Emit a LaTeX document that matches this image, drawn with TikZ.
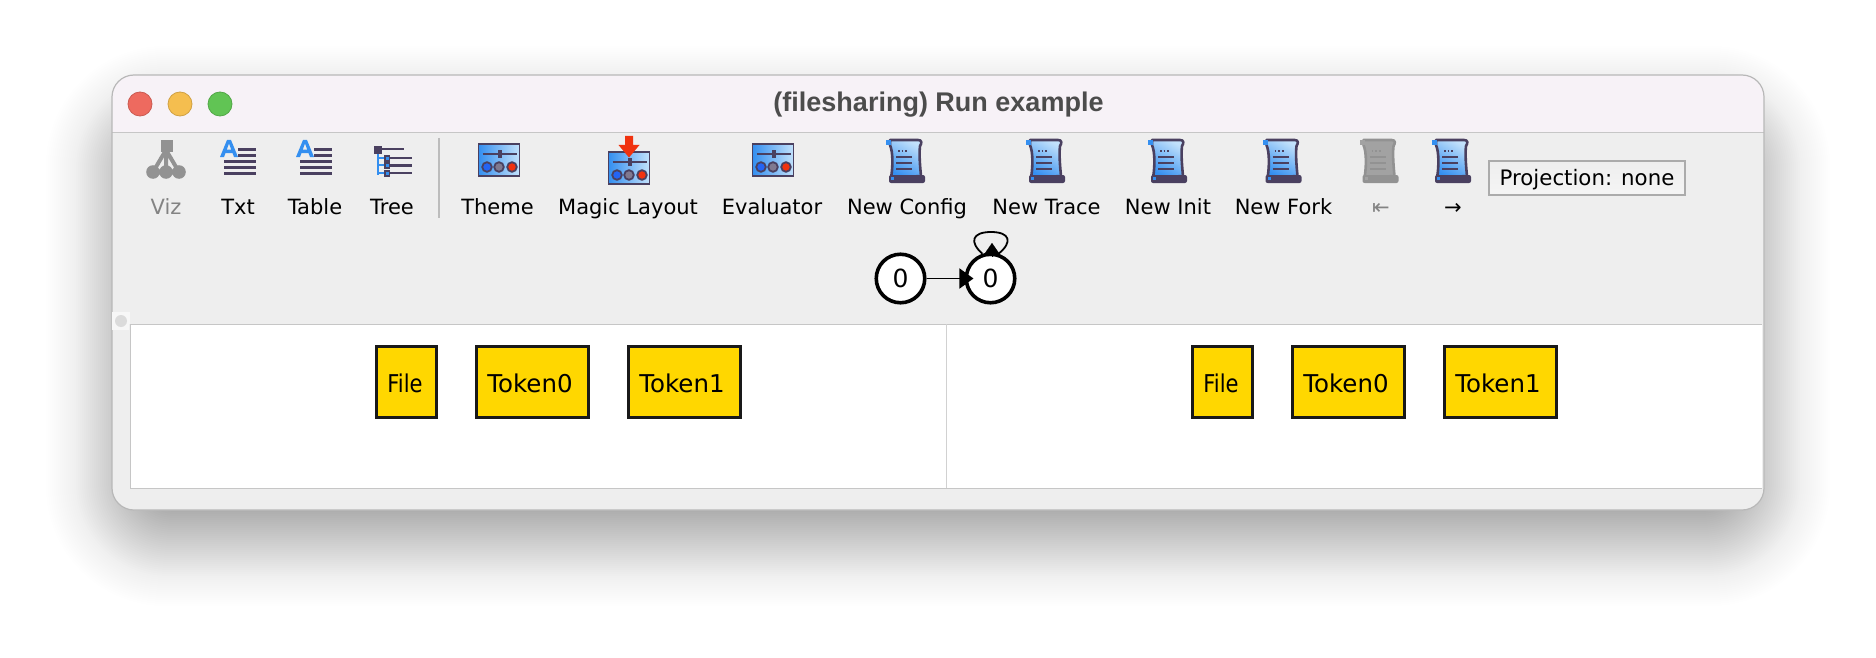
\documentclass[tikz,border=0pt]{standalone}
\usepackage{fontspec}
\setmainfont{DejaVu Sans}
\newfontfamily\titlefont{Liberation Sans}
\usetikzlibrary{arrows.meta}
\definecolor{barbg}{HTML}{F7F2F7}
\definecolor{toolbg}{HTML}{EEEEEE}
\definecolor{winedge}{HTML}{B8B8B8}
\definecolor{paneledge}{HTML}{C6C6C6}
\definecolor{inkdark}{HTML}{4A4060}
\definecolor{iconblue}{HTML}{348FF0}
\definecolor{iconlight}{HTML}{C2E1FB}
\definecolor{icongrey}{HTML}{929292}
\definecolor{greylight}{HTML}{ABABAB}
\definecolor{tokengold}{HTML}{FFD700}
\definecolor{iconred}{HTML}{F0320F}
\definecolor{lightred}{HTML}{EE6A5F}
\definecolor{lightyellow}{HTML}{F5BE4F}
\definecolor{lightgreen}{HTML}{61C454}
\definecolor{titleink}{HTML}{4C4C4C}
\tikzset{
  x=1pt,y=-1pt,
  toollabel/.style={inner sep=0pt,font=\fontsize{21}{24}\selectfont,text=black,anchor=base},
  atom/.style={draw=black!90,line width=2.6pt,fill=tokengold,minimum height=71.5pt,inner sep=0pt,text height=20pt,text depth=0pt,font=\fontsize{24.5}{26}\selectfont,text=black},
  statecirc/.style={circle,draw=black,line width=3.6pt,fill=white,minimum size=48.5pt,inner sep=0pt,font=\fontsize{25}{28}\selectfont},
  light/.style={circle,minimum size=24pt,inner sep=0pt,line width=.8pt},
  pics/themeicon/.style={code={
    \fill[left color=iconblue,right color=iconlight] (0,0) rectangle (41,32);
    \draw[inkdark,line width=1.8pt] (0,0) rectangle (41,32);
    \draw[inkdark,line width=1.6pt] (4,10) -- (38,10);
    \fill[inkdark] (19,6) rectangle (23,14);
    \filldraw[fill=iconblue!70!blue,draw=inkdark,line width=1.8pt] (8.5,23) circle (4.8);
    \filldraw[fill=inkdark!70!white,draw=inkdark,line width=1.8pt] (20.5,23) circle (4.8);
    \filldraw[fill=iconred,draw=inkdark,line width=1.8pt] (33.5,23) circle (4.8);
  }},
  pics/scrollicon/.style args={#1/#2/#3}{code={
    \filldraw[bottom color=#2,top color=#3,shading angle=-30,draw=#1,line width=2.6pt,line join=round]
      (5,2) -- (33,2) .. controls (37,2) and (37,5) .. (35,8) .. controls (34,16) and (35,28) .. (36,38) -- (6,40)
      .. controls (8,28) and (8,14) .. (5,7) -- cycle;
    \fill[#1,rounded corners=2pt] (4,37) rectangle (40,45);
    \fill[#2] (1,2) rectangle (6,7);
    \fill[#2] (6,39) rectangle (9,42);
    \draw[#1,line width=1.7pt,dotted] (13,13) -- (22,13);
    \foreach \yy in {19,25,31} \draw[#1,line width=1.7pt] (11,\yy) -- (27,\yy);
  }},
  pics/txticon/.style={code={
    \fill[iconblue,even odd rule] (0,17) -- (7,0) -- (11,0) -- (18,17) -- (14,17) -- (12.5,13) -- (5.5,13) -- (4,17) -- cycle (6.8,9.5) -- (11.2,9.5) -- (9,3.5) -- cycle;
    \foreach \yy in {9.5,15.5} \draw[inkdark,line width=3pt] (18,\yy) -- (36,\yy);
    \foreach \yy in {21,27,33} \draw[inkdark,line width=3pt] (4,\yy) -- (36,\yy);
  }}
}
\begin{document}
\begin{tikzpicture}
\useasboundingbox (0,0) rectangle (1876,658);
\fill[white] (0,0) rectangle (1876,658);
% soft shadow: nested rounded rectangles with a gaussian weight
\foreach \d in {96,94,...,-96}{
  \pgfmathsetmacro{\rr}{max(4,60+\d*0.9)}
  \pgfmathsetmacro{\aa}{0.0095*exp(-\d*\d/(2*38*38))}
  \fill[black,fill opacity=\aa,rounded corners=\rr pt]
    ({112-\d},{112-\d}) rectangle ({1764+\d},{540+\d});
}
% window
\fill[toolbg,rounded corners=22pt] (112,75) rectangle (1764,510);
\begin{scope}
  \clip[rounded corners=22pt] (112,75) rectangle (1764,510);
  \fill[barbg] (112,75) rectangle (1764,132);
  \draw[paneledge,line width=1.2pt] (112,132.5) -- (1764,132.5);
\end{scope}
\draw[winedge,line width=1.2pt,rounded corners=22pt] (112,75) rectangle (1764,510);
% traffic lights and title
\node[light,fill=lightred,draw=lightred!85!black] (closebtn) at (140,104) {};
\node[light,fill=lightyellow,draw=lightyellow!85!black] (minbtn) at (180,104) {};
\node[light,fill=lightgreen,draw=lightgreen!85!black] (maxbtn) at (220,104) {};
\node[inner sep=0pt,text=titleink,font=\titlefont\bfseries\fontsize{27}{30}\selectfont] (title) at (938.5,104.5) {(filesharing) Run example};
% toolbar icons
\begin{scope}[icongrey]
  \fill (160.7,140) rectangle (173,152);
  \draw[line width=4pt] (166,150) -- (153,172) (166,150) -- (166,172) (166,150) -- (179,172);
  \fill (153,172) circle (6.8) (166,172) circle (6.8) (179,172) circle (6.8);
\end{scope}
\pic at (220,140) {txticon};
\pic at (296,140) {txticon};
% tree icon
\draw[iconblue,line width=2.5pt] (378,152) -- (378,175) (378,158) -- (384,158) (378,165) -- (384,165) (378,173) -- (384,173);
\fill[inkdark] (374,146) rectangle (382,154);
\draw[inkdark,line width=2.4pt] (382,149) -- (404,149);
\foreach \yy in {158,165.5,173} {
  \fill[inkdark] (384,\yy-3.5) rectangle (390,\yy+3.5);
  \fill[iconblue] (385.5,\yy-1.5) rectangle (388.5,\yy+1.5);
  \draw[inkdark,line width=2.4pt] (390,\yy) -- (412,\yy);
}
\draw[greylight!80!white,line width=1.6pt] (439,138) -- (439,218);
\pic at (478.5,144) {themeicon};
\pic at (608.5,152) {themeicon};
\fill[iconred] (625,136) -- (633,136) -- (633,145) -- (639.5,145) -- (629,157.5) -- (618.5,145) -- (625,145) -- cycle;
\pic at (752.5,144) {themeicon};
\pic at (885,138) {scrollicon={inkdark/iconblue/iconlight}};
\pic at (1025,138) {scrollicon={inkdark/iconblue/iconlight}};
\pic at (1147,138) {scrollicon={inkdark/iconblue/iconlight}};
\pic at (1261.5,138) {scrollicon={inkdark/iconblue/iconlight}};
\pic at (1358.5,138) {scrollicon={icongrey/icongrey!85!white/icongrey!85!white}};
\pic at (1431,138) {scrollicon={inkdark/iconblue/iconlight}};
% toolbar labels
\node[toollabel,text=icongrey!90!black] (lviz) at (166,214) {Viz};
\node[toollabel] (ltxt) at (238,214) {Txt};
\node[toollabel] (ltable) at (315,214) {Table};
\node[toollabel] (ltree) at (392,214) {Tree};
\node[toollabel] (ltheme) at (497.5,214) {Theme};
\node[toollabel] (lmagic) at (628,214) {Magic Layout};
\node[toollabel] (leval) at (772,214) {Evaluator};
\node[toollabel] (lconfig) at (907,214) {New Config};
\node[toollabel] (ltrace) at (1046.5,214) {New Trace};
\node[toollabel] (linit) at (1168,214) {New Init};
\node[toollabel] (lfork) at (1283.5,214) {New Fork};
\node[toollabel,text=icongrey!90!black] (lfirst) at (1381,214) {⇤};
\node[toollabel] (lnext) at (1453,214) {→};
\node[draw=greylight,line width=2pt,top color=toolbg,bottom color=toolbg!60!white,minimum width=196pt,minimum height=34.5pt,inner sep=0pt,text height=15.4pt,text depth=0pt,font=\fontsize{21.3}{24}\selectfont] (proj) at (1587,178) {Projection: none};
% state graph
\node[statecirc] (s0) at (900.5,278.5) {0};
\node[statecirc] (s1) at (990.5,278.5) {0};
\draw[black,line width=1.8pt,-{Triangle[length=14pt,width=20pt]},shorten >=-9pt] (s0) -- (s1);
\coordinate (looptip) at (992,243);
\coordinate (loopbase) at (992,256);
\draw[black,line width=1.8pt] (s1.72) .. controls (1013,242) and (1010,232) .. (991,232) .. controls (972,232) and (969,242) .. (s1.108);
\draw[black,line width=.1pt,-{Triangle[length=13pt,width=18pt]}] (loopbase) -- (looptip);
% panels
\fill[white] (130,324) rectangle (1762,488);
\draw[paneledge,line width=1pt] (130,488) -- (130,324) -- (1762,324);
\draw[paneledge,line width=1pt] (130,488) -- (1762,488);
\draw[paneledge!80!white,line width=1pt] (946,324) -- (946,488);
% sash handle
\fill[toolbg!50!white] (112,312) rectangle (130,324);
\fill[toolbg!50!white] (112,324) rectangle (129,330);
\fill[toolbg!92!black] (121,321) circle (6);
% atoms
\node[atom,minimum width=59.5pt] (file1) at (406.5,382) {\scalebox{.86}[1]{File}\kern3pt};
\node[atom,minimum width=112.5pt] (tok01) at (532.5,382) {Token0\kern5pt};
\node[atom,minimum width=112.5pt] (tok11) at (684.5,382) {Token1\kern5pt};
\node[atom,minimum width=59.5pt] (file2) at (1222.5,382) {\scalebox{.86}[1]{File}\kern3pt};
\node[atom,minimum width=112.5pt] (tok02) at (1348.5,382) {Token0\kern5pt};
\node[atom,minimum width=112.5pt] (tok12) at (1500.5,382) {Token1\kern5pt};
\end{tikzpicture}
\end{document}
